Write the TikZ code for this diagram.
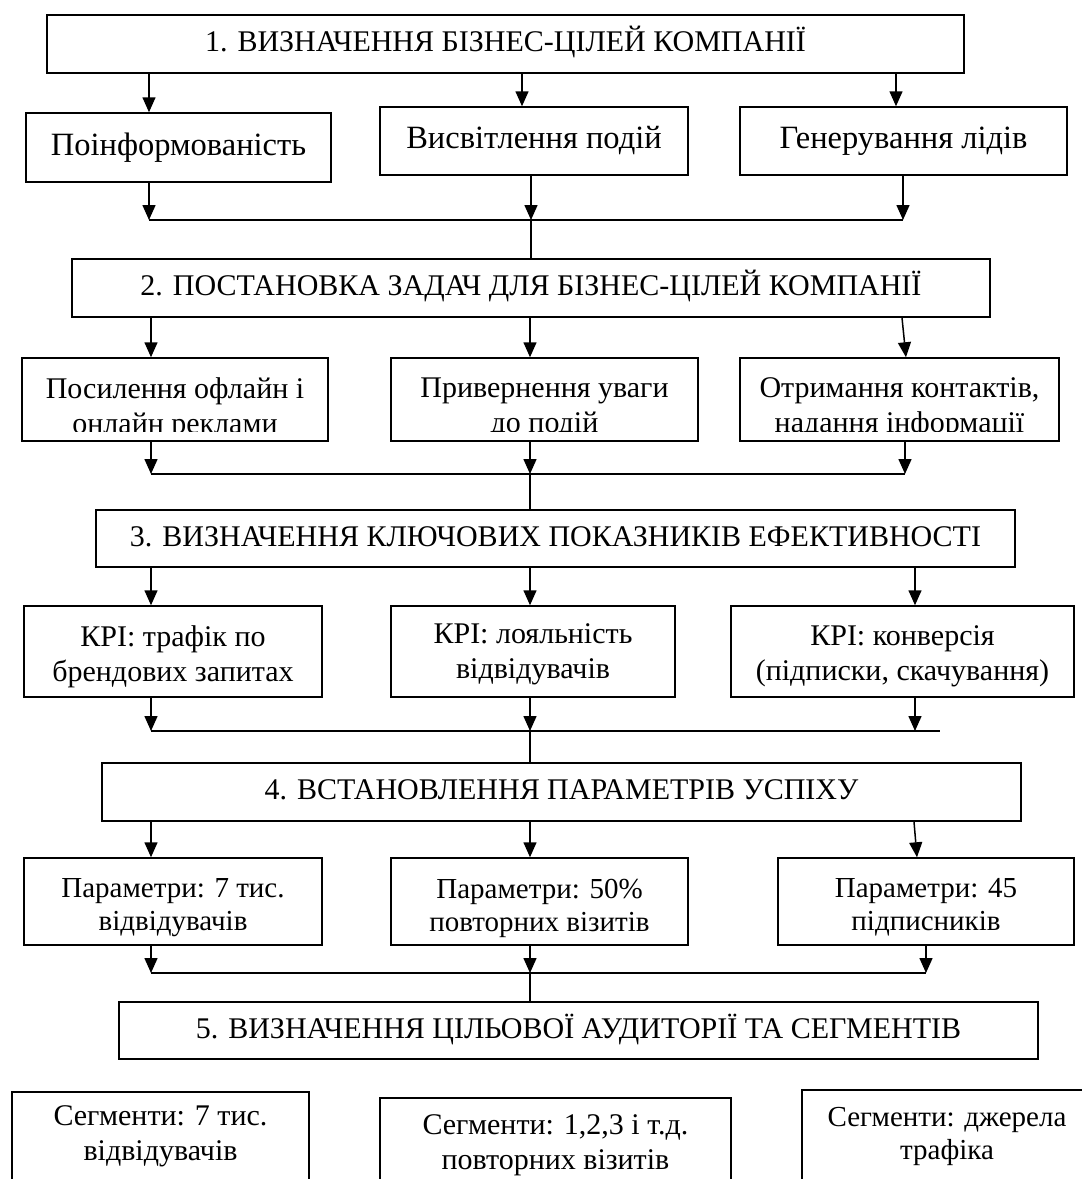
\documentclass[tikz,border=0pt]{standalone}
\usepackage{fontspec}
\setmainfont{Liberation Serif}
\usetikzlibrary{arrows.meta}
\begin{document}
\begin{tikzpicture}[x=1pt,y=-1pt,
  box/.style={draw, line width=1.5pt, inner sep=0pt, align=center, font=\fontsize{30}{35}\selectfont},
  head/.style={box, text height=21pt, text depth=6pt},
  big/.style={font=\fontsize{32.5}{37}\selectfont},
  txt/.style={inner sep=0pt, align=center, font=\fontsize{30}{35}\selectfont},
  small/.style={font=\fontsize{29}{33}\selectfont},
  arr/.style={line width=1.5pt, -{Triangle[length=15pt,width=13pt]}},
  ln/.style={line width=1.5pt}]
\useasboundingbox (0,0) rectangle (1082,1179);
\clip (0,0) rectangle (1082,1179);

\foreach \v in {149,151,522,530,531,896,902,903,905,906,914,915,917,926,940}
  \coordinate (x\v) at (\v,0);

% ---------- level 1
\node[head, minimum width=917pt, minimum height=58pt] (b1) at (505.5,44) {1. ВИЗНАЧЕННЯ БІЗНЕС-ЦІЛЕЙ КОМПАНІЇ};
\node[box, big, minimum width=305pt, minimum height=69pt] (r1a) at (178.5,147.5) {Поінформованість};
\node[box, big, minimum width=308pt, minimum height=68pt] (r1b) at (534,141) {Висвітлення подій};
\node[box, big, minimum width=327pt, minimum height=68pt] (r1c) at (903.5,141) {Генерування лідів};
\coordinate (j1) at (531,220);
\draw[arr] (b1.south -| x149) -- (r1a.north -| x149);
\draw[arr] (b1.south -| x522) -- (r1b.north -| x522);
\draw[arr] (b1.south -| x896) -- (r1c.north -| x896);
\draw[arr] (r1a.south -| x149) -- (x149 |- j1);
\draw[arr] (r1b.south -| x531) -- (j1);
\draw[arr] (r1c.south -| x903) -- (x903 |- j1);
\draw[ln] (x149 |- j1) -- (x903 |- j1);

% ---------- level 2
\node[head, minimum width=918pt, minimum height=58pt] (b2) at (531,288) {2. ПОСТАНОВКА ЗАДАЧ ДЛЯ БІЗНЕС-ЦІЛЕЙ КОМПАНІЇ};
\draw[ln] (j1) -- (b2.north -| j1);
\node[box, minimum width=306pt, minimum height=83pt] (r2a) at (175,399.5) {};
\node[box, minimum width=307pt, minimum height=83pt] (r2b) at (544.5,399.5) {};
\node[box, minimum width=319pt, minimum height=83pt] (r2c) at (899.5,399.5) {};
\begin{scope}
  \clip (0,358) rectangle (1082,431);
  \node[txt] (t2a) at (175,408.5) {Посилення офлайн і\\онлайн реклами};
  \node[txt] (t2b) at (544.5,408.5) {Привернення уваги\\до подій};
  \node[txt] (t2c) at (899.5,408.5) {Отримання контактів,\\надання інформації};
\end{scope}
\coordinate (j2) at (530,474);
\draw[arr] (b2.south -| x151) -- (r2a.north -| x151);
\draw[arr] (b2.south -| x530) -- (r2b.north -| x530);
\draw[arr] (b2.south -| x902) -- (r2c.north -| x906);
\draw[arr] (r2a.south -| x151) -- (x151 |- j2);
\draw[arr] (r2b.south -| x530) -- (j2);
\draw[arr] (r2c.south -| x905) -- (x905 |- j2);
\draw[ln] (x151 |- j2) -- (x905 |- j2);

% ---------- level 3
\node[head, minimum width=919pt, minimum height=57pt] (b3) at (555.5,538.5) {3. ВИЗНАЧЕННЯ КЛЮЧОВИХ ПОКАЗНИКІВ ЕФЕКТИВНОСТІ};
\draw[ln] (j2) -- (b3.north -| j2);
\node[box, minimum width=298pt, minimum height=91pt] (r3a) at (173,651.5) {};
\node[box, minimum width=284pt, minimum height=91pt] (r3b) at (533,651.5) {};
\node[box, minimum width=343pt, minimum height=91pt] (r3c) at (902.5,651.5) {};
\node[txt] (t3a) at (r3a.center) [yshift=-5pt] {КРІ: трафік по\\брендових запитах};
\node[txt] (t3b) at (r3b.center) [yshift=-3pt] {КРІ: лояльність\\відвідувачів};
\node[txt] (t3c) at (r3c.center) [yshift=-5pt] {КРІ: конверсія\\(підписки, скачування)};
\coordinate (j3) at (530,731);
\draw[arr] (b3.south -| x151) -- (r3a.north -| x151);
\draw[arr] (b3.south -| x530) -- (r3b.north -| x530);
\draw[arr] (b3.south -| x915) -- (r3c.north -| x915);
\draw[arr] (r3a.south -| x151) -- (x151 |- j3);
\draw[arr] (r3b.south -| x530) -- (j3);
\draw[arr] (r3c.south -| x915) -- (x915 |- j3);
\draw[ln] (x151 |- j3) -- (x940 |- j3);

% ---------- level 4
\node[head, minimum width=919pt, minimum height=58pt] (b4) at (561.5,792) {4. ВСТАНОВЛЕННЯ ПАРАМЕТРІВ УСПІХУ};
\draw[ln] (j3) -- (b4.north -| j3);
\node[box, minimum width=298pt, minimum height=87pt] (r4a) at (173,901.5) {};
\node[box, minimum width=297pt, minimum height=87pt] (r4b) at (539.5,901.5) {};
\node[box, minimum width=296pt, minimum height=87pt] (r4c) at (926,901.5) {};
\node[txt, small] (t4a) at (r4a.center) [yshift=-6pt] {Параметри: 7 тис.\\відвідувачів};
\node[txt, small] (t4b) at (r4b.center) [yshift=-7pt] {Параметри: 50\%\\повторних візитів};
\node[txt, small] (t4c) at (r4c.center) [yshift=-6pt] {Параметри: 45\\підписників};
\coordinate (j4) at (530,973);
\draw[arr] (b4.south -| x151) -- (r4a.north -| x151);
\draw[arr] (b4.south -| x530) -- (r4b.north -| x530);
\draw[arr] (b4.south -| x914) -- (r4c.north -| x917);
\draw[arr] (r4a.south -| x151) -- (x151 |- j4);
\draw[arr] (r4b.south -| x530) -- (j4);
\draw[arr] (r4c.south -| x926) -- (x926 |- j4);
\draw[ln] (x151 |- j4) -- (x926 |- j4);

% ---------- level 5
\node[head, minimum width=919pt, minimum height=57pt] (b5) at (578.5,1030.5) {5. ВИЗНАЧЕННЯ ЦІЛЬОВОЇ АУДИТОРІЇ ТА СЕГМЕНТІВ};
\draw[ln] (j4) -- (b5.north -| j4);
\node[box, minimum width=297pt, minimum height=98pt] (r5a) at (160.5,1141) {};
\node[box, minimum width=351pt, minimum height=97pt] (r5b) at (555.5,1146.5) {};
\node[box, minimum width=290pt, minimum height=100pt] (r5c) at (947,1140) {};
\node[txt] (t5a) at (160.5,1136) {Сегменти: 7 тис.\\відвідувачів};
\node[txt] (t5b) at (555.5,1145) {Сегменти: 1,2,3 і т.д.\\повторних візитів};
\node[txt, small] (t5c) at (947,1136) {Сегменти: джерела\\трафіка};
\end{tikzpicture}
\end{document}
